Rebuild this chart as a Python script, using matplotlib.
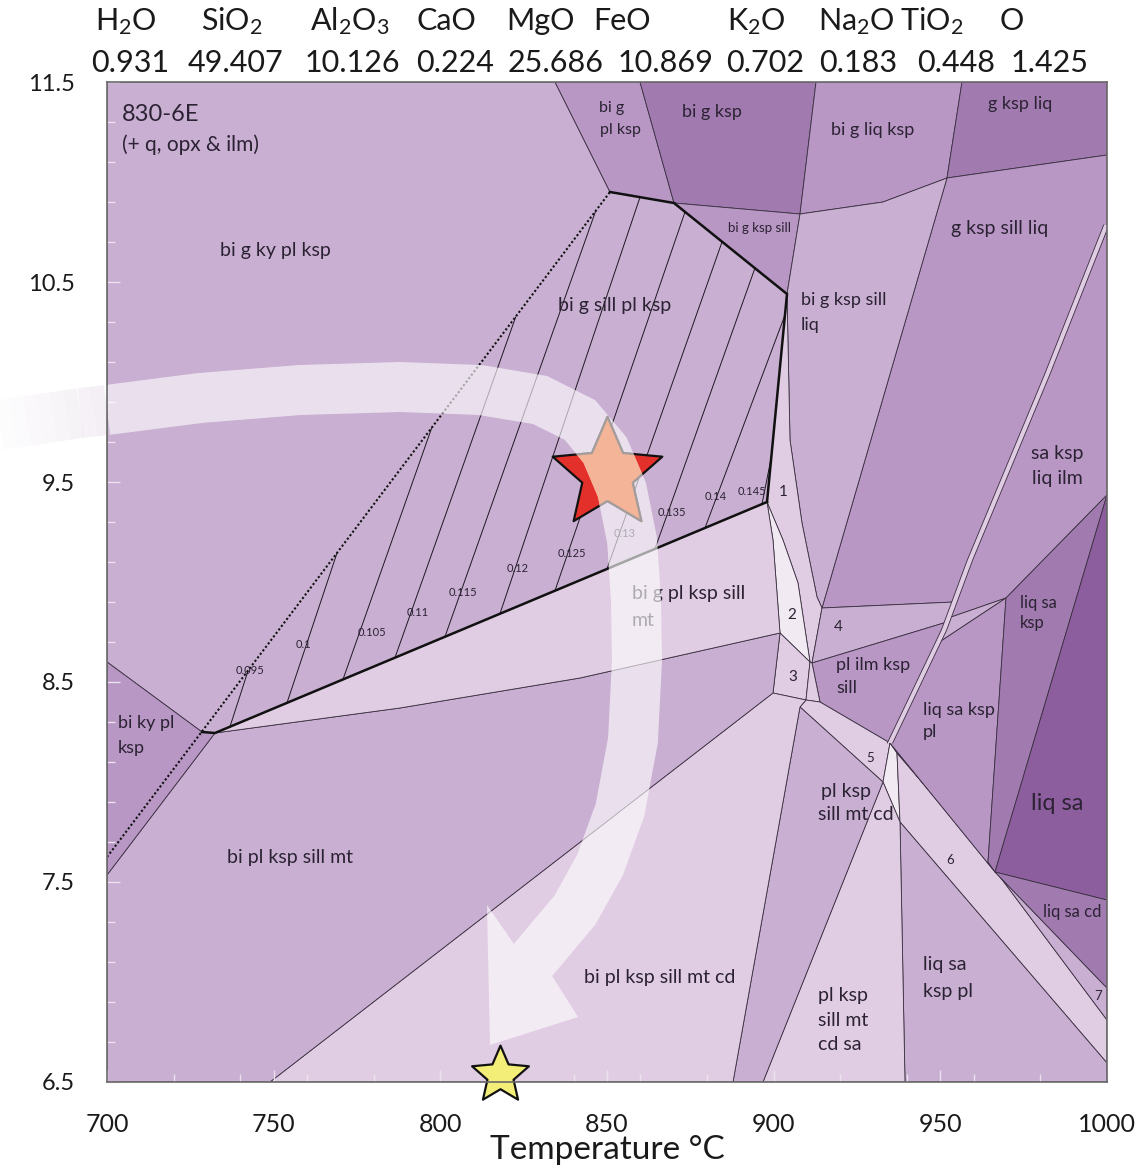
import numpy as np
import matplotlib
matplotlib.use('Agg')
import matplotlib.pyplot as plt
from matplotlib.patches import Polygon
from matplotlib.path import Path

plt.rcParams['font.family'] = ['Lato', 'DejaVu Sans']
plt.rcParams['mathtext.fontset'] = 'custom'
plt.rcParams['mathtext.rm'] = 'Lato'
plt.rcParams['mathtext.it'] = 'Lato:italic'
plt.rcParams['mathtext.bf'] = 'Lato:bold'

# ---------------- header (bulk composition) ----------------
oxides = ['H$_2$O', 'SiO$_2$', 'Al$_2$O$_3$', 'CaO', 'MgO', 'FeO', 'K$_2$O', 'Na$_2$O', 'TiO$_2$', 'O']
amounts = ['0.931', '49.407', '10.126', '0.224', '25.686', '10.869', '0.702', '0.183', '0.448', '1.425']

# ---------------- phase fields (T in degC, P in kbar) ----------------
reg_bigkyplksp = [(700, 11.5), (834.4, 11.5), (850.9, 10.95), (870.1, 10.895), (904.0, 10.44),
                  (898.0, 9.4), (732.4, 8.245), (728.5, 8.25), (700, 8.6)]
reg_bigplksp = [(834.4, 11.5), (859.9, 11.5), (870.1, 10.895), (850.9, 10.95)]
reg_bigksp = [(859.9, 11.5), (912.7, 11.5), (907.9, 10.84), (870.1, 10.895)]
reg_bigkspsill = [(870.1, 10.895), (907.9, 10.84), (904.0, 10.44)]
reg_bigliqksp = [(912.7, 11.5), (956.5, 11.5), (952.0, 11.02), (932.8, 10.9), (907.9, 10.84)]
reg_gkspliq = [(956.5, 11.5), (1000, 11.5), (1000, 11.135), (952.0, 11.02)]
reg_gkspsillliq = [(952.0, 11.02), (1000, 11.135), (1000, 10.785), (982.0, 10.035), (958.9, 9.11),
                   (954.1, 8.9), (914.5, 8.87)]
reg_bigkspsillliq = [(907.9, 10.84), (932.8, 10.9), (952.0, 11.02), (914.5, 8.87), (913.0, 8.925),
                     (908.5, 9.295), (904.9, 9.71), (904.0, 10.44)]
reg_sakspliqilm = [(1000, 10.785), (1000, 9.435), (969.7, 8.92), (952.4, 8.82), (958.9, 9.11), (982.0, 10.035)]
reg_f1 = [(904.0, 10.44), (904.9, 9.71), (908.5, 9.295), (913.0, 8.925), (914.5, 8.87), (911.5, 8.595),
          (910.9, 8.6), (907.3, 8.995), (902.8, 9.21), (898.0, 9.4)]
reg_f2 = [(898.0, 9.4), (902.8, 9.21), (907.3, 8.995), (910.9, 8.6), (901.9, 8.745), (899.8, 9.21)]
reg_f3 = [(901.9, 8.745), (910.9, 8.6), (909.7, 8.41), (899.8, 8.445)]
reg_f4 = [(914.5, 8.87), (954.1, 8.9), (952.0, 8.8), (911.5, 8.595)]
reg_wedge = [(952.4, 8.82), (969.7, 8.92), (949.3, 8.695)]
reg_plilmksp = [(911.5, 8.595), (952.0, 8.8), (951.1, 8.76), (934.9, 8.195), (913.9, 8.4)]
reg_gap35 = [(910.9, 8.6), (911.5, 8.595), (913.9, 8.4), (909.7, 8.41)]
reg_f5 = [(907.9, 8.375), (909.7, 8.41), (913.9, 8.4), (934.9, 8.195), (932.8, 8.0)]
reg_white5 = [(934.9, 8.195), (937.0, 8.145), (937.9, 7.8), (932.8, 8.0)]
reg_f6 = [(937.0, 8.145), (961.9, 7.66), (1000, 6.81), (1000, 6.595), (937.9, 7.8)]
reg_f7 = [(934.9, 8.195), (966.4, 7.55), (1000, 6.97), (1000, 6.81), (961.9, 7.66), (937.0, 8.145)]
reg_liqsakspplup = [(949.3, 8.695), (969.7, 8.92), (964.3, 7.6), (966.4, 7.55), (934.9, 8.195)]
reg_liqsaksp = [(969.7, 8.92), (1000, 9.435), (966.4, 7.55), (964.3, 7.6)]
reg_liqsa = [(966.4, 7.55), (1000, 9.435), (1000, 7.41)]
reg_liqsacd = [(966.4, 7.55), (1000, 7.41), (1000, 6.97)]
reg_liqsakspplbot = [(937.9, 7.8), (1000, 6.595), (1000, 6.5), (939.4, 6.5)]
reg_plkspsillmtcdsa = [(932.8, 8.0), (937.9, 7.8), (939.4, 6.5), (896.8, 6.5)]
reg_plkspsillmtcd = [(907.9, 8.375), (932.8, 8.0), (896.8, 6.5), (887.8, 6.5)]
reg_biplkspsillmtcd = [(748.9, 6.5), (899.8, 8.445), (909.7, 8.41), (907.9, 8.375), (887.8, 6.5)]
reg_biplkspsillmt = [(700, 6.5), (748.9, 6.5), (899.8, 8.445), (901.9, 8.745), (841.9, 8.52),
                     (787.9, 8.37), (732.4, 8.245), (700, 7.535)]
reg_bikyplksp = [(700, 8.6), (728.5, 8.25), (732.4, 8.245), (700, 7.535)]
reg_bigplkspsillmt = [(732.4, 8.245), (898.0, 9.4), (899.8, 9.21), (901.9, 8.745), (841.9, 8.52), (787.9, 8.37)]

band_left = [(999.0, 10.785), (981.2, 10.035), (958.1, 9.11), (950.3, 8.76), (934.1, 8.195)]
band_right = [(1000.6, 10.785), (982.8, 10.035), (959.7, 9.11), (951.9, 8.76), (935.7, 8.195)]

# heavy (field boundary) lines and the ky/sill dotted line
thick_upper = [(850.9, 10.95), (870.1, 10.895), (904.0, 10.44), (898.0, 9.4)]
thick_lower = [(898.0, 9.4), (732.4, 8.245), (728.5, 8.25)]
ky_sill = [(700, 7.625), (850.9, 10.95)]

# isopleths
iso_labels = ['0.095', '0.1', '0.105', '0.11', '0.115', '0.12', '0.125', '0.13', '0.135', '0.14', '0.145']
iso_T0 = [736.9, 754.0, 770.8, 786.4, 801.4, 817.9, 834.4, 850.0, 864.4, 879.4, 896.5]
iso_P0 = [8.277, 8.396, 8.513, 8.622, 8.727, 8.842, 8.957, 9.065, 9.166, 9.27, 9.39]
iso_T1 = [742.3, 769.0, 797.4, 822.6, 846.6, 859.9, 873.4, 884.5, 894.4, 903.4, 899.3]
iso_P1 = [8.555, 9.145, 9.77, 10.325, 10.855, 10.924, 10.85, 10.70, 10.57, 10.335, 9.625]
iso_lab_T = [742.9, 758.8, 779.5, 793.3, 806.8, 823.3, 839.5, 855.4, 869.5, 882.7, 893.5]
iso_lab_P = [8.56, 8.685, 8.75, 8.85, 8.945, 9.07, 9.145, 9.245, 9.35, 9.425, 9.455]

# P-T path and stars
path_T = [700, 727.9, 757.9, 787.9, 811.9, 829.9, 841.9, 849.4, 854.5, 857.5, 858.7, 859.0,
          857.8, 853.9, 847.9, 840.4, 827.8]
path_P = [9.86, 9.92, 9.96, 9.975, 9.96, 9.91, 9.81, 9.66, 9.46, 9.21, 8.91, 8.61,
          8.21, 7.86, 7.585, 7.36, 7.11]
path_tail_T = [667.9, 672.0, 676.0, 680.0, 684.0, 688.0, 692.0, 696.0, 700.0]
path_tail_P = [9.785, 9.795, 9.805, 9.815, 9.825, 9.835, 9.845, 9.852, 9.86]
arrow_head = [(814.0, 7.385), (841.3, 6.825), (814.9, 6.685)]   # inner barb, outer barb, tip
peak_star = (849.9, 9.541)
final_star = (817.9, 6.535)

# region names (T, P, text, alignment, size)
field_labels = [
    (750.4, 10.66, 'bi g ky pl ksp', 'center', 14),
    (851.5, 11.37, 'bi g', 'center', 11.5),
    (853.9, 11.26, 'pl ksp', 'center', 11.5),
    (881.5, 11.35, 'bi g ksp', 'center', 13),
    (929.8, 11.26, 'bi g liq ksp', 'center', 13),
    (973.9, 11.39, 'g ksp liq', 'center', 13),
    (895.6, 10.77, 'bi g ksp sill', 'center', 9.5),
    (967.9, 10.77, 'g ksp sill liq', 'center', 14),
    (852.4, 10.385, 'bi g sill pl ksp', 'center', 14),
    (908.2, 10.41, 'bi g ksp sill', 'left', 13),
    (908.2, 10.285, 'liq', 'left', 13),
    (985.0, 9.645, 'sa ksp', 'center', 14),
    (985.0, 9.52, 'liq ilm', 'center', 14),
    (902.8, 9.45, '1', 'center', 11),
    (905.5, 8.835, '2', 'center', 11),
    (905.8, 8.525, '3', 'center', 11),
    (919.3, 8.775, '4', 'center', 11),
    (928.9, 8.12, '5', 'center', 9.5),
    (952.9, 7.61, '6', 'center', 9.5),
    (997.3, 6.93, '7', 'center', 9.5),
    (857.5, 8.945, 'bi g pl ksp sill', 'left', 14),
    (857.5, 8.81, 'mt', 'left', 14),
    (918.7, 8.585, 'pl ilm ksp', 'left', 13),
    (918.7, 8.47, 'sill', 'left', 13),
    (973.9, 8.895, 'liq sa', 'left', 12),
    (973.9, 8.795, 'ksp', 'left', 12),
    (944.8, 8.36, 'liq sa ksp', 'left', 13),
    (944.8, 8.25, 'pl', 'left', 13),
    (985.0, 7.895, 'liq sa', 'center', 17),
    (989.5, 7.35, 'liq sa cd', 'center', 12),
    (703.3, 8.295, 'bi ky pl', 'left', 13),
    (703.3, 8.17, 'ksp', 'left', 13),
    (754.9, 7.62, 'bi pl ksp sill mt', 'center', 14),
    (914.2, 7.95, 'pl ksp', 'left', 14),
    (913.3, 7.835, 'sill mt cd', 'left', 14),
    (865.9, 7.02, 'bi pl ksp sill mt cd', 'center', 14),
    (913.3, 6.935, 'pl ksp', 'left', 14),
    (913.3, 6.81, 'sill mt', 'left', 14),
    (913.3, 6.685, 'cd sa', 'left', 14),
    (944.8, 7.085, 'liq sa', 'left', 14),
    (944.8, 6.95, 'ksp pl', 'left', 14),
]

# ---------------- styling ----------------
C_WHITE = '#f2eaf2'
C_LIGHT = '#e1cde3'
C_ML = '#c9afd2'
C_M = '#b897c5'
C_D = '#a17bb0'
C_DD = '#8d5e9e'
EDGE = '#3a2e40'
TXT = '#2b2233'

fields = [
    (reg_bigkyplksp, C_ML), (reg_bigplksp, C_M), (reg_bigksp, C_D), (reg_bigkspsill, C_M),
    (reg_bigliqksp, C_M), (reg_gkspliq, C_D), (reg_gkspsillliq, C_M), (reg_bigkspsillliq, C_ML),
    (reg_sakspliqilm, C_M), (reg_f1, C_LIGHT), (reg_f2, C_WHITE), (reg_f3, C_LIGHT), (reg_f4, C_ML),
    (reg_wedge, C_ML), (reg_plilmksp, C_M), (reg_gap35, C_LIGHT), (reg_f5, C_LIGHT),
    (reg_white5, C_WHITE), (reg_f6, C_LIGHT), (reg_f7, C_ML), (reg_liqsakspplup, C_M),
    (reg_liqsaksp, C_D), (reg_liqsa, C_DD), (reg_liqsacd, C_D), (reg_liqsakspplbot, C_ML),
    (reg_plkspsillmtcdsa, C_LIGHT), (reg_plkspsillmtcd, C_ML), (reg_biplkspsillmtcd, C_LIGHT),
    (reg_biplkspsillmt, C_ML), (reg_bikyplksp, C_M), (reg_bigplkspsillmt, C_LIGHT),
]

W, H = 1142, 1176
fig = plt.figure(figsize=(W / 100, H / 100), dpi=100)
ax = fig.add_axes([107 / W, 1 - 1082 / H, 1000 / W, 1000 / H])
ax.set_xlim(700, 1000)
ax.set_ylim(6.5, 11.5)

for verts, col in fields:
    ax.add_patch(Polygon(verts, closed=True, facecolor=col, edgecolor=EDGE, linewidth=0.6, zorder=1))

band_poly = band_left + band_right[::-1]
ax.add_patch(Polygon(band_poly, closed=True, facecolor=C_LIGHT, edgecolor='none', zorder=2))
for side in (band_left, band_right):
    ax.plot([p[0] for p in side], [p[1] for p in side], color=EDGE, lw=0.6, zorder=2)

# isopleths
for t0, p0, t1, p1 in zip(iso_T0, iso_P0, iso_T1, iso_P1):
    ax.plot([t0, t1], [p0, p1], color='#1e1822', lw=0.7, zorder=3)
for t, p, s in zip(iso_lab_T, iso_lab_P, iso_labels):
    ax.text(t, p, s, fontsize=8, color=TXT, ha='center', va='center', zorder=4)

ax.plot([p[0] for p in thick_upper], [p[1] for p in thick_upper], color='#111111', lw=1.8, zorder=3,
        solid_joinstyle='miter')
ax.plot([p[0] for p in thick_lower], [p[1] for p in thick_lower], color='#111111', lw=1.8, zorder=3)
ax.plot([p[0] for p in ky_sill], [p[1] for p in ky_sill], color='#111111', lw=1.5,
        linestyle=(0, (1.0, 1.1)), zorder=3)

for t, p, s, ha, fs in field_labels:
    ax.text(t, p, s, fontsize=fs, color=TXT, ha=ha, va='center', zorder=4)
ax.text(704.5, 11.34, '830-6E', fontsize=17, color=TXT, ha='left', va='center', zorder=4)
ax.text(704.5, 11.185, '(+ q, opx & ilm)', fontsize=15, color=TXT, ha='left', va='center', zorder=4)


def star_path(inner=0.45):
    ang = np.deg2rad(90 + np.arange(10) * 36)
    rad = np.where(np.arange(10) % 2 == 0, 1.0, inner)
    v = np.column_stack([rad * np.cos(ang), rad * np.sin(ang)])
    v = np.vstack([v, v[:1]])
    codes = [Path.MOVETO] + [Path.LINETO] * 9 + [Path.CLOSEPOLY]
    return Path(v, codes)


star = star_path(0.46)
ax.scatter([peak_star[0]], [peak_star[1]], marker=star, s=83 ** 2, facecolor='#e4302a',
           edgecolor='#111111', linewidth=1.6, zorder=5)

# P-T path arrow (semi-transparent white) built as one outline in pixel space
cl = ax.transData.transform(np.column_stack([path_T, path_P]))
tang = np.gradient(cl, axis=0)
tang /= np.linalg.norm(tang, axis=1)[:, None]
nrm = np.column_stack([-tang[:, 1], tang[:, 0]])
half_w = 25.0
outer = cl + half_w * nrm
inner = cl - half_w * nrm
head = ax.transData.transform(np.array(arrow_head))
outline = np.vstack([outer, head[1], head[2], head[0], inner[::-1]])
outline_data = ax.transData.inverted().transform(outline)
arrow_patch = Polygon(outline_data, closed=True, facecolor='white', edgecolor='none', alpha=0.62, zorder=6)
ax.add_patch(arrow_patch)

# peak star seen through the path
sc = ax.scatter([peak_star[0]], [peak_star[1]], marker=star, s=83 ** 2, facecolor='#f4b497',
                edgecolor='#a59c9c', linewidth=1.6, zorder=6.5)
sc.set_clip_path(arrow_patch)

n = len(path_tail_T) - 1
for i in range(n):
    ax.plot(path_tail_T[i:i + 2], path_tail_P[i:i + 2], color='#dccfe0', alpha=0.05 + 0.3 * i / n,
            lw=36, solid_capstyle='butt', clip_on=False, zorder=6)

ax.scatter([final_star[0]], [final_star[1]], marker=star, s=43 ** 2, facecolor='#f3ee78',
           edgecolor='#111111', linewidth=1.6, zorder=7, clip_on=False)

# axes styling
for s in ax.spines.values():
    s.set_color('#6a6a6a')
    s.set_linewidth(1.2)
    s.set_zorder(8)
ax.set_xticks([700, 750, 800, 850, 900, 950, 1000])
ax.set_xticks(np.arange(700, 1001, 20), minor=True)
ax.set_yticks([6.5, 7.5, 8.5, 9.5, 10.5, 11.5])
ax.set_yticks(np.arange(6.5, 11.51, 0.2), minor=True)
ax.set_yticklabels(['6.5', '7.5', '8.5', '9.5', '10.5', '11.5'])
ax.tick_params(which='both', direction='in', color='#ece2ee', width=1.0, labelsize=18,
               labelcolor='#1a1a1a')
ax.tick_params(which='major', length=9)
ax.tick_params(which='minor', length=6)
ax.tick_params(axis='x', which='major', pad=22)
ax.tick_params(axis='y', which='major', pad=23, labelsize=17)

fig.text(607 / W, 1 - 1150 / H, 'Temperature \u00b0C', fontsize=24, ha='center', va='center', color='#1a1a1a')

ox_x = [126, 232, 350, 446, 540, 622, 756, 856, 932, 1012]
am_x = [130, 236, 352, 455, 556, 665, 765, 858, 956, 1050]
for x, s in zip(ox_x, oxides):
    fig.text(x / W, 1 - 30 / H, s, fontsize=22, ha='center', va='baseline', color='#1a1a1a')
for x, s in zip(am_x, amounts):
    fig.text(x / W, 1 - 72 / H, s, fontsize=22, ha='center', va='baseline', color='#1a1a1a')

fig.savefig('out.png', dpi=100)
